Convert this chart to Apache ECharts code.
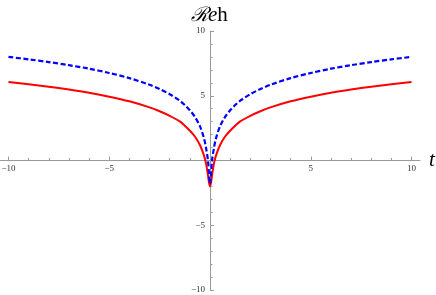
<!DOCTYPE html>
<html><head><meta charset="utf-8">
<script src="https://cdn.jsdelivr.net/npm/echarts@6/dist/echarts.min.js"></script>
<style>html,body{margin:0;padding:0;background:#fff}#c{width:436px;height:295px}</style>
</head><body><div id="c"></div>
<script>
const tValues = [-10,-9,-8,-7,-6,-5,-4,-3,-2.5,-2,-1.5,-1.25,-1,-0.75,-0.5,-0.3,-0.2,-0.1,-0.05,0,0.05,0.1,0.2,0.3,0.5,0.75,1,1.25,1.5,2,2.5,3,4,5,6,7,8,9,10];
const redValues = [6.06,5.89,5.70,5.48,5.23,4.93,4.57,4.10,3.80,3.45,3.02,2.68,2.30,1.85,1.20,0.40,-0.20,-1.15,-1.70,-2.00,-1.70,-1.15,-0.20,0.40,1.20,1.85,2.30,2.68,3.02,3.45,3.80,4.10,4.57,4.93,5.23,5.48,5.70,5.89,6.06];
const blueValues = [8.00,7.81,7.60,7.36,7.09,6.76,6.36,5.85,5.52,5.12,4.62,4.28,3.88,3.37,2.65,1.73,1.00,0.00,-1.00,-1.80,-1.00,0.00,1.00,1.73,2.65,3.37,3.88,4.28,4.62,5.12,5.52,5.85,6.36,6.76,7.09,7.36,7.60,7.81,8.00];
const xMajorTicks = [-10,-5,5,10];
const xMinorTicks = [-9,-8,-7,-6,-4,-3,-2,-1,1,2,3,4,6,7,8,9];
const yMajorTicks = [-10,-5,5,10];
const yMinorTicks = [-9,-8,-7,-6,-4,-3,-2,-1,1,2,3,4,6,7,8,9];

const axisColor = '#9a9a9a';
const labelFont = {fontFamily: '"Liberation Serif", "DejaVu Serif", serif', fontSize: 9, color: '#333'};
const fmt = v => v < 0 ? '\u2212' + Math.abs(v) : String(v);

const chart = echarts.init(document.getElementById('c'), null, {renderer: 'canvas'});
chart.setOption({
  animation: false,
  backgroundColor: '#fff',
  title: {
    text: '{s|\u211B}{e|e}{h|h}',
    left: 186, top: 0,
    textStyle: {
      fontWeight: 'normal',
      rich: {
        s: {fontFamily: '"DejaVu Serif", serif', fontStyle: 'italic', fontWeight: 'normal', fontSize: 20, color: '#000'},
        e: {fontFamily: '"Liberation Serif", serif', fontStyle: 'italic', fontWeight: 'normal', fontSize: 21, color: '#000'},
        h: {fontFamily: '"Liberation Serif", serif', fontWeight: 'normal', fontSize: 21, color: '#000'}
      }
    }
  },
  grid: {left: 0, width: 420, top: 31, bottom: 5, containLabel: false, outerBoundsMode: 'none'},
  xAxis: [
    {
      type: 'value', min: -10.42, max: 10.42, position: 'bottom', offset: -129.5,
      name: 't', nameLocation: 'end', nameGap: 9,
      nameTextStyle: {fontFamily: '"Liberation Serif", serif', fontStyle: 'italic', fontSize: 21, color: '#000', verticalAlign: 'middle', padding: [0,0,4,0]},
      axisLine: {onZero: false, lineStyle: {color: axisColor, width: 1}},
      axisTick: {show: true, inside: true, length: 4, customValues: xMajorTicks, lineStyle: {color: axisColor}},
      axisLabel: {customValues: xMajorTicks, formatter: fmt, margin: 4, ...labelFont},
      splitLine: {show: false}
    },
    {
      type: 'value', min: -10.42, max: 10.42, position: 'bottom', offset: -129.5,
      axisLine: {show: false, onZero: false},
      axisTick: {show: true, inside: true, length: 2.5, customValues: xMinorTicks, lineStyle: {color: axisColor}},
      axisLabel: {show: false},
      splitLine: {show: false}
    }
  ],
  yAxis: [
    {
      type: 'value', min: -10, max: 10, position: 'left', offset: -210,
      axisLine: {onZero: false, lineStyle: {color: axisColor, width: 1}},
      axisTick: {show: true, inside: true, length: 4, customValues: yMajorTicks, lineStyle: {color: axisColor}},
      axisLabel: {customValues: yMajorTicks, formatter: fmt, margin: 5, ...labelFont},
      splitLine: {show: false}
    },
    {
      type: 'value', min: -10, max: 10, position: 'left', offset: -210,
      axisLine: {show: false, onZero: false},
      axisTick: {show: true, inside: true, length: 2.5, customValues: yMinorTicks, lineStyle: {color: axisColor}},
      axisLabel: {show: false},
      splitLine: {show: false}
    }
  ],
  series: [
    {
      type: 'line', xAxisIndex: 0, yAxisIndex: 0,
      data: tValues.map((t, i) => [t, redValues[i]]),
      showSymbol: false, smooth: 0.3,
      lineStyle: {color: '#ff0000', width: 2}
    },
    {
      type: 'line', xAxisIndex: 0, yAxisIndex: 0,
      data: tValues.map((t, i) => [t, blueValues[i]]),
      showSymbol: false, smooth: 0.3,
      lineStyle: {color: '#0000ff', width: 2.2, type: [5, 2.5]}
    }
  ]
});
</script>
</body></html>
